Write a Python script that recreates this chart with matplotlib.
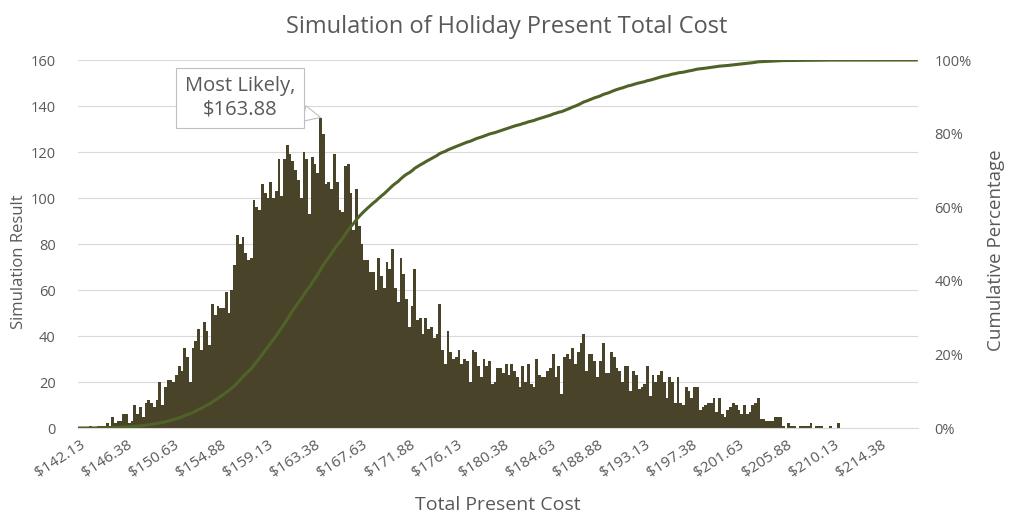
import numpy as np
import matplotlib.pyplot as plt
import matplotlib.transforms as mtransforms
from matplotlib.ticker import PercentFormatter

plt.rcParams['font.family'] = ['Open Sans', 'DejaVu Sans']

# histogram bins: $142.13 upward in steps of $0.25
start_cost = 142.13
bin_width = 0.25

# simulation counts per bin (left to right)
left_tail = [0, 0, 0, 0, 1, 0, 0, 1, 1, 1,
             2, 1, 5, 2, 3, 3, 6, 6, 2, 3, 10, 6, 9, 5, 11, 12, 11, 9, 12, 20, 10, 18, 21]
rise = [21, 20, 23, 27, 25, 35, 31, 20, 35, 38, 43, 34, 46, 42, 36, 54, 49, 53, 52, 52,
        59, 50, 60, 71, 84, 80, 83, 76, 73, 74,
        99, 96, 95, 106, 102, 100, 107, 100, 103, 117, 101, 117, 123, 119, 116, 112,
        108, 100, 120, 117, 93, 118, 115, 111]
peak = [135, 128, 106, 107, 104, 119, 107, 95, 94, 114, 115, 102, 86, 104, 88, 80]
fall = [73, 73, 68, 68, 60, 74, 66, 61, 72, 69, 78, 61, 55, 74, 67, 56, 44, 53, 69, 47,
        48, 41, 48, 43, 44, 39, 41, 54, 34, 28, 42, 33, 30, 31, 34, 28, 30, 29, 20, 34,
        33, 27, 22, 30, 27, 29, 19, 20, 26, 26, 24, 28, 23, 28, 25, 22, 18, 27, 20]
second_bump = [28, 19, 18, 30, 23, 22, 22, 25, 26, 32, 22, 27, 15, 31, 32, 30, 35, 28,
               33, 37, 41, 25, 32, 32, 29, 22, 29, 37, 24, 24, 33, 31, 26, 25, 20, 27,
               27, 16, 25, 23]
right_tail = [17, 18, 19, 27, 14, 23, 20, 23, 25, 20, 13, 22, 20, 11, 22, 11, 10, 18, 16,
              13, 18, 18, 8, 9, 10, 11, 11, 13, 7, 13, 6, 5, 8,
              9, 11, 10, 8, 6, 10, 6, 7, 10, 11, 13, 4, 4, 3, 3, 3, 5, 5, 5, 1, 0, 2, 1, 1,
              0, 1, 1, 1, 1, 2, 0, 1, 1, 1, 0, 0, 1, 0, 0, 2]
empty_bins = [0] * 28

counts = np.array(left_tail + rise + peak + fall + second_bump + right_tail + empty_bins)
categories = [f"${start_cost + bin_width * i:.2f}" for i in range(len(counts))]
label_step = 17

x = np.arange(len(counts))
cum_pct = np.cumsum(counts) / counts.sum()
peak_idx = int(np.argmax(counts))

grey = '#595959'
fig = plt.figure(figsize=(10.14, 5.26), dpi=100)
ax = fig.add_axes([0.077, 0.1863, 0.828, 0.6996])
ax.bar(x, counts, width=1.0, color='#494429', linewidth=0)
ax.set_xlim(-0.5, len(counts) - 0.5)
ax.set_ylim(0, 160)
ax.set_yticks(range(0, 161, 20))
ax.grid(axis='y', color='#D9D9D9', linewidth=0.8)
ax.set_axisbelow(True)
ax.set_xticks(x[::label_step])
ax.set_xticklabels(categories[::label_step], rotation=33, ha='right',
                   rotation_mode='anchor')
# nudge the slanted labels a little left, like Excel does
shift = mtransforms.ScaledTranslation(-6 / 100, 0, fig.dpi_scale_trans)
for lbl in ax.get_xticklabels():
    lbl.set_transform(lbl.get_transform() + shift)
for s in ['top', 'left', 'right']:
    ax.spines[s].set_visible(False)
ax.spines['bottom'].set_color('#D9D9D9')
ax.tick_params(axis='both', length=0, colors=grey, labelsize=10.5)
ax.tick_params(axis='x', labelsize=11, pad=7)
ax.tick_params(axis='y', pad=16)
ax.set_ylabel('Simulation Result', fontsize=12, color=grey)
ax.yaxis.set_label_coords(-0.061, 0.451)
ax.set_xlabel('Total Present Cost', fontsize=14, color=grey, labelpad=11)

ax2 = ax.twinx()
ax2.plot(x, cum_pct, color='#4F6228', linewidth=2.2)
ax2.set_ylim(0, 1.0)
ax2.set_yticks(np.arange(0, 1.01, 0.2))
ax2.yaxis.set_major_formatter(PercentFormatter(1.0, decimals=0))
for s in ['top', 'left', 'right', 'bottom']:
    ax2.spines[s].set_visible(False)
ax2.tick_params(axis='y', length=0, colors=grey, labelsize=10.5, pad=12)
ax2.set_ylabel('Cumulative Percentage', fontsize=13.5, color=grey)
ax2.yaxis.set_label_coords(1.082, 0.484)

ax2.annotate(f"Most Likely,\n{categories[peak_idx]}",
             xy=(peak_idx, counts[peak_idx]), xycoords=ax.transData,
             xytext=(0.2367, 0.8137), textcoords='figure fraction',
             ha='center', va='center', fontsize=14.5, color=grey, linespacing=1.25,
             bbox=dict(boxstyle='square,pad=0.42', fc='white', ec='#BFBFBF', lw=0.8),
             arrowprops=dict(arrowstyle='wedge,tail_width=0.8,shrink_factor=0.5',
                             fc='white', ec='#BFBFBF', lw=0.8, shrinkA=0, shrinkB=0))

fig.suptitle('Simulation of Holiday Present Total Cost', fontsize=17, color=grey,
             x=0.5, y=0.972)

fig.savefig('out.png', dpi=100)
